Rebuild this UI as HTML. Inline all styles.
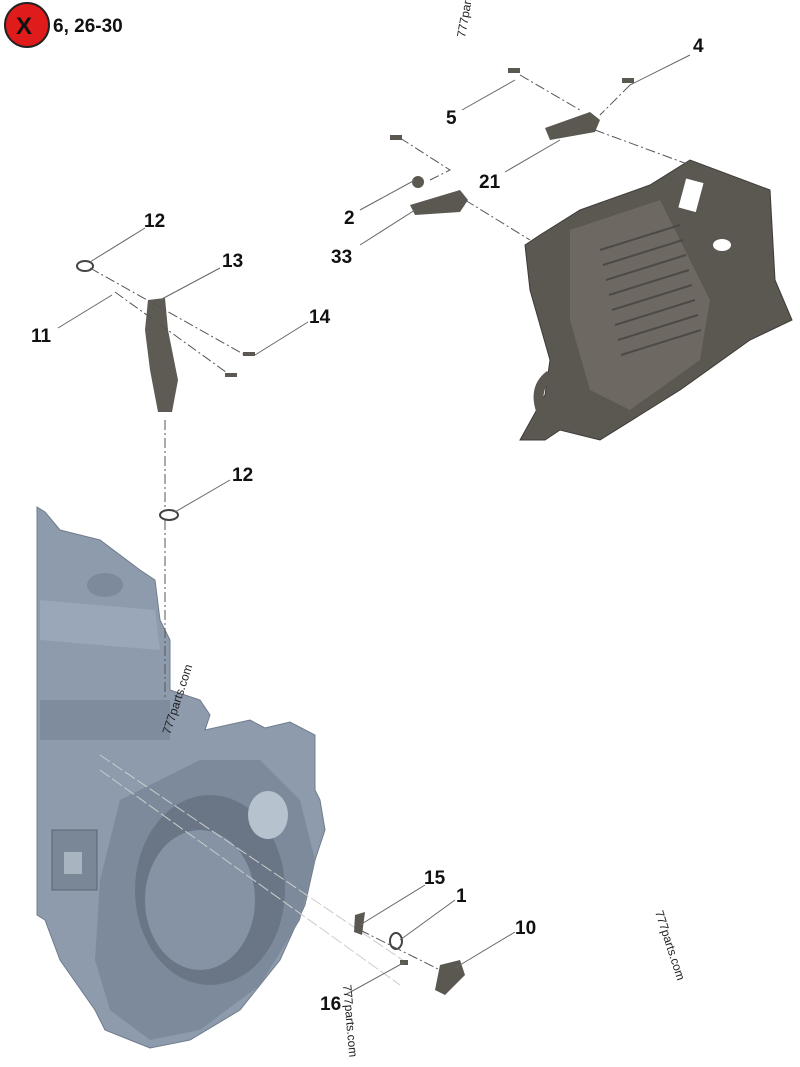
<!DOCTYPE html>
<html><head><style>
body{margin:0;background:#fff;}
svg{display:block}
text{font-family:"Liberation Sans",sans-serif;}
.l{font-weight:bold;font-size:19px;fill:#111}
.ln{stroke:#666;stroke-width:1;fill:none}
.d{stroke:#555;stroke-width:1;fill:none;stroke-dasharray:10 3 2 3}
.w{font-size:12px;fill:#222}
</style></head><body>
<svg width="800" height="1067" viewBox="0 0 800 1067">
<!-- engine -->
<path d="M37,507 L45,512 L60,530 L100,540 L140,570 L155,580 L160,620 L170,640 L170,690 L200,700 L210,715 L205,730 L250,720 L265,728 L290,722 L315,735 L315,790 L320,800 L325,830 L315,860 L305,905 L280,960 L240,1010 L190,1040 L150,1048 L105,1030 L95,1010 L60,960 L45,920 L37,915 Z" fill="#8d9bad" stroke="#6f7c8c"/>
<path d="M120,800 L200,760 L260,760 L300,800 L315,860 L300,920 L260,985 L200,1030 L150,1040 L110,1010 L95,960 L100,880 Z" fill="#7d8a9b"/>
<ellipse cx="210" cy="890" rx="75" ry="95" fill="#6a7686"/>
<ellipse cx="200" cy="900" rx="55" ry="70" fill="#8593a5"/>
<ellipse cx="268" cy="815" rx="20" ry="24" fill="#b7c2cf"/>
<rect x="52" y="830" width="45" height="60" fill="#7a8797" stroke="#5a6574"/>
<rect x="64" y="852" width="18" height="22" fill="#a9b4c1"/>
<path d="M40,600 L155,610 L160,650 L40,640 Z" fill="#9aa7b8"/>
<ellipse cx="105" cy="585" rx="18" ry="12" fill="#7d8a9b"/>
<rect x="40" y="700" width="130" height="40" fill="#7f8c9d"/>
<line x1="100" y1="755" x2="410" y2="965" stroke="#ccc" stroke-dasharray="12 3"/>
<line x1="100" y1="770" x2="400" y2="985" stroke="#ccc" stroke-dasharray="12 3"/>
<!-- ECU -->
<path d="M525,245 L540,235 L580,210 L650,185 L690,160 L770,190 L775,280 L792,320 L750,340 L680,390 L640,415 L600,440 L560,430 L545,440 L520,440 L545,395 L550,360 L530,290 Z" fill="#5b5751" stroke="#3e3b37"/>
<path d="M570,230 L660,200 L710,300 L700,360 L630,410 L590,390 L570,320 Z" fill="#6d6861"/>
<g stroke="#4d4a45" stroke-width="2">
<line x1="600" y1="250" x2="680" y2="225"/><line x1="603" y1="265" x2="683" y2="240"/><line x1="606" y1="280" x2="686" y2="255"/><line x1="609" y1="295" x2="689" y2="270"/><line x1="612" y1="310" x2="692" y2="285"/><line x1="615" y1="325" x2="695" y2="300"/><line x1="618" y1="340" x2="698" y2="315"/><line x1="621" y1="355" x2="701" y2="330"/>
</g>
<rect x="682" y="180" width="18" height="30" fill="#fff" transform="rotate(15 690 195)"/>
<ellipse cx="722" cy="245" rx="9" ry="6" fill="#fff"/>
<path d="M550,375 Q530,390 545,420" stroke="#5b5751" stroke-width="10" fill="none"/>
<!-- small parts -->
<path d="M148,300 L165,298 L168,330 L178,380 L172,412 L158,412 L150,370 L145,330 Z" fill="#5e5a54"/>
<ellipse cx="85" cy="266" rx="8" ry="5" fill="none" stroke="#444" stroke-width="2"/>
<ellipse cx="169" cy="515" rx="9" ry="5" fill="none" stroke="#444" stroke-width="2"/>
<ellipse cx="396" cy="941" rx="6" ry="8" fill="none" stroke="#444" stroke-width="2"/>
<path d="M440,965 L460,960 L465,975 L445,995 L435,990 Z" fill="#5b5751"/>
<path d="M355,915 L365,912 L362,935 L354,932 Z" fill="#5b5751"/>
<path d="M545,128 L590,112 L600,120 L595,132 L550,140 Z" fill="#5b5751"/>
<path d="M410,205 L460,190 L468,200 L460,212 L415,215 Z" fill="#5b5751"/>
<circle cx="418" cy="182" r="6" fill="#5b5751"/>
<rect x="508" y="68" width="12" height="5" fill="#5b5751"/>
<rect x="622" y="78" width="12" height="5" fill="#5b5751"/>
<rect x="390" y="135" width="12" height="5" fill="#5b5751"/>
<rect x="243" y="352" width="12" height="4" fill="#5b5751"/>
<rect x="225" y="373" width="12" height="4" fill="#5b5751"/>
<rect x="400" y="960" width="8" height="5" fill="#5b5751"/>
<!-- dashed lines -->
<path class="d" d="M520,75 L580,110 M630,85 L600,115 M595,130 L690,165 M400,138 L450,170 L430,180 M465,200 L530,240 M90,268 L245,355 M115,292 L230,375 M165,420 L165,510 M165,520 L165,700 M360,930 L440,970"/>
<!-- leaders -->
<path class="ln" d="M690,55 L630,85 M462,110 L515,80 M505,172 L560,140 M360,210 L415,180 M360,245 L415,210 M145,228 L90,262 M220,268 L160,300 M308,322 L255,355 M58,328 L112,295 M230,480 L175,512 M425,885 L360,925 M455,900 L400,940 M515,932 L455,968 M345,995 L405,962"/>
<!-- labels -->
<text class="l" x="693" y="52">4</text>
<text class="l" x="446" y="124">5</text>
<text class="l" x="479" y="188">21</text>
<text class="l" x="344" y="224">2</text>
<text class="l" x="331" y="263">33</text>
<text class="l" x="144" y="227">12</text>
<text class="l" x="222" y="267">13</text>
<text class="l" x="309" y="323">14</text>
<text class="l" x="31" y="342">11</text>
<text class="l" x="232" y="481">12</text>
<text class="l" x="424" y="884">15</text>
<text class="l" x="456" y="902">1</text>
<text class="l" x="515" y="934">10</text>
<text class="l" x="320" y="1010">16</text>
<!-- X badge -->
<circle cx="27" cy="25" r="22" fill="#e01b1b" stroke="#222" stroke-width="2"/>
<text x="16" y="34" font-size="24" font-weight="bold" fill="#111">X</text>
<text class="l" x="53" y="32">6, 26-30</text>
<!-- watermarks -->
<text class="w" transform="translate(465,38) rotate(-80)">777parts.com</text>
<text class="w" transform="translate(170,735) rotate(-72)">777parts.com</text>
<text class="w" transform="translate(655,912) rotate(72)">777parts.com</text>
<text class="w" transform="translate(343,985) rotate(85)">777parts.com</text>
</svg>
</body></html>
